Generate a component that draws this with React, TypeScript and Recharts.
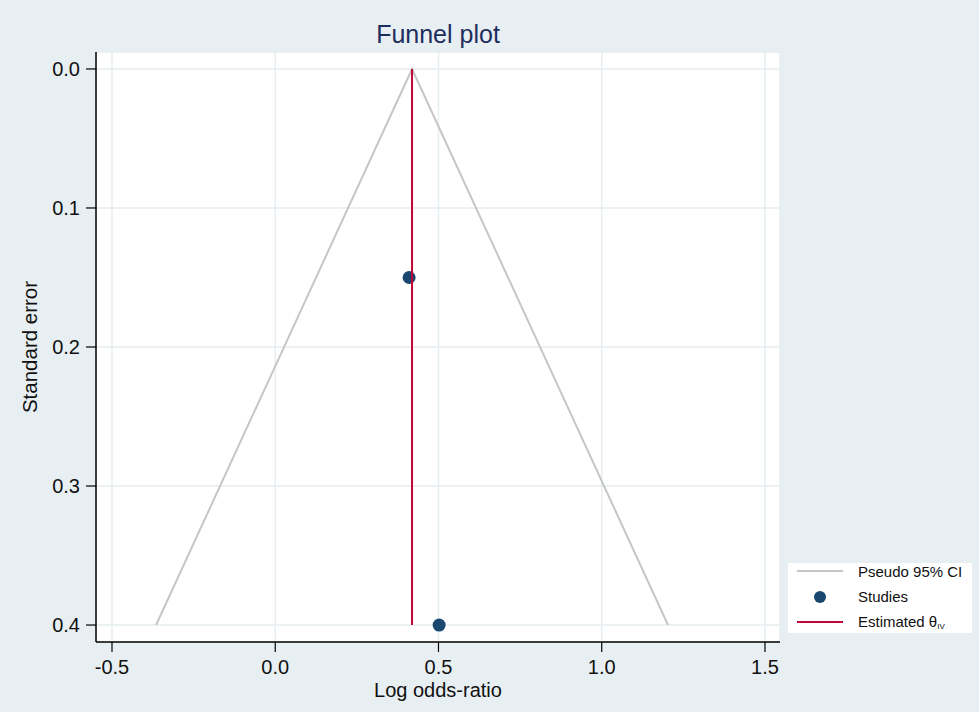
import React from 'react';
import { ComposedChart, Scatter, XAxis, YAxis, CartesianGrid } from 'recharts';

// pooled estimate (log OR) and the pseudo 95% CI funnel
const funnel = [
  { x: -0.365, y: 0.4 },
  { x: 0.419, y: 0.0 },
  { x: 1.203, y: 0.4 },
];
const estimateLine = [
  { x: 0.419, y: 0.0 },
  { x: 0.419, y: 0.4 },
];
const studies = [
  { x: 0.41, y: 0.15 },
  { x: 0.502, y: 0.4 },
];
const xTicks = [-0.5, 0, 0.5, 1, 1.5];
const yTicks = [0, 0.1, 0.2, 0.3, 0.4];

const FONT = '"Liberation Sans", Arial, sans-serif';
const BG = '#e8eff2';
const GREY = '#c6c6c6';
const RED = '#c10534';
const NAVY = '#1a476f';

const legendItems = [
  { kind: 'line', color: GREY, label: 'Pseudo 95% CI' },
  { kind: 'dot', color: NAVY, label: 'Studies' },
  { kind: 'line', color: RED, label: 'Estimated θ', sub: 'IV' },
];

const LegendBox = () => (
  <div
    style={{
      position: 'absolute',
      left: 788,
      top: 563,
      width: 184,
      height: 70,
      background: '#fff',
      fontFamily: FONT,
      fontSize: 15,
      color: '#111',
    }}
  >
    {legendItems.map((it, i) => (
      <div
        key={it.label}
        style={{ position: 'absolute', left: 0, top: -1 + i * 25.5, display: 'flex', alignItems: 'center', height: 18 }}
      >
        <svg width={70} height={14}>
          {it.kind === 'line' ? (
            <line x1={9} x2={55} y1={7} y2={7} stroke={it.color} strokeWidth={2} />
          ) : (
            <circle cx={32} cy={7} r={6} fill={it.color} />
          )}
        </svg>
        <span>
          {it.label}
          {it.sub && <span style={{ fontSize: 8, verticalAlign: -2 }}>{it.sub}</span>}
        </span>
      </div>
    ))}
  </div>
);

const fmt = (v: number) => v.toFixed(1);

export default function App() {
  return (
    <div style={{ position: 'absolute', left: 0, top: 0, width: 979, height: 712, background: BG }}>
      <div
        style={{
          position: 'absolute',
          top: 20,
          left: 96,
          width: 684,
          textAlign: 'center',
          fontFamily: FONT,
          fontSize: 25,
          color: '#1e2d5e',
        }}
      >
        Funnel plot
      </div>
      <ComposedChart width={979} height={712} margin={{ top: 52, right: 199, bottom: 0, left: 0 }}>
        <CartesianGrid stroke="#e6eef1" strokeWidth={1.5} fill="#fff" fillOpacity={1} />
        <XAxis
          type="number"
          dataKey="x"
          domain={[-0.549, 1.546]}
          ticks={xTicks}
          tickFormatter={fmt}
          allowDataOverflow
          height={70}
          tickSize={10}
          tickMargin={8}
          axisLine={{ stroke: '#000', strokeWidth: 1.5 }}
          tickLine={{ stroke: '#000', strokeWidth: 1.2 }}
          tick={{ fill: '#111', fontSize: 20, fontFamily: FONT }}
          label={{ value: 'Log odds-ratio', position: 'insideBottom', offset: 15, fill: '#111', fontSize: 20, fontFamily: FONT }}
        />
        <YAxis
          type="number"
          dataKey="y"
          reversed
          domain={[-0.0122, 0.4122]}
          ticks={yTicks}
          tickFormatter={fmt}
          allowDataOverflow
          width={96}
          tickSize={10}
          tickMargin={6}
          axisLine={{ stroke: '#000', strokeWidth: 1.5 }}
          tickLine={{ stroke: '#000', strokeWidth: 1.2 }}
          tick={{ fill: '#111', fontSize: 20, fontFamily: FONT }}
          label={{
            value: 'Standard error',
            angle: -90,
            position: 'insideLeft',
            offset: 30,
            fill: '#111',
            fontSize: 20.5,
            fontFamily: FONT,
            style: { textAnchor: 'middle' },
          }}
        />
        <Scatter
          data={funnel}
          line={{ stroke: GREY, strokeWidth: 2 }}
          shape={() => <g />}
          isAnimationActive={false}
        />
        <Scatter
          data={studies}
          fill={NAVY}
          shape={(p: any) => <circle cx={p.cx} cy={p.cy} r={6.5} fill={NAVY} />}
          isAnimationActive={false}
        />
        <Scatter
          data={estimateLine}
          line={{ stroke: RED, strokeWidth: 2 }}
          shape={() => <g />}
          isAnimationActive={false}
        />
      </ComposedChart>
      <LegendBox />
    </div>
  );
}
